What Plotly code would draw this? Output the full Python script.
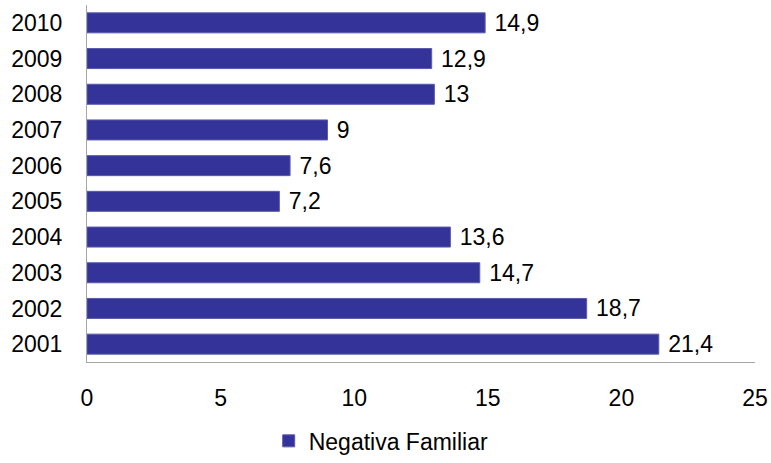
import plotly.graph_objects as go

years = ["2001", "2002", "2003", "2004", "2005", "2006", "2007", "2008", "2009", "2010"]
values = [21.4, 18.7, 14.7, 13.6, 7.2, 7.6, 9, 13, 12.9, 14.9]
series_name = "Negativa Familiar"
x_ticks = [0, 5, 10, 15, 20, 25]

FS = 23

fig = go.Figure()
fig.add_trace(go.Bar(
    y=years, x=values, orientation="h", name=series_name,
    marker=dict(color="#333399", line=dict(color="#5a5aae", width=1)),
    texttemplate=" %{x}", textposition="outside", cliponaxis=False,
    constraintext="none",
    textfont=dict(size=FS, color="#000000"),
    showlegend=True,
))

fig.update_layout(
    width=771, height=463,
    margin=dict(l=87, r=16, t=5, b=101, autoexpand=False),
    paper_bgcolor="white", plot_bgcolor="white",
    separators=",.",
    font=dict(family="Liberation Sans, Arial, sans-serif", size=FS, color="#000000"),
    bargap=0.44,
    showlegend=True,
    legend=dict(orientation="h", x=0.272, xanchor="left", y=-0.221, yanchor="middle",
                font=dict(size=FS), itemwidth=30),
)
fig.update_xaxes(range=[0, 25], tickvals=x_ticks, showgrid=False, zeroline=False,
                 showline=True, linecolor="#a6a6a6", linewidth=1, ticks="",
                 automargin=False, ticklabelstandoff=15, tickfont=dict(size=FS))
fig.update_yaxes(type="category", categoryorder="array", categoryarray=years,
                 showgrid=False, showline=True, linecolor="#a6a6a6", linewidth=1,
                 ticks="", automargin=False, ticklabelstandoff=19, tickfont=dict(size=FS))

fig.write_html("out.html", config={"displayModeBar": False},
               post_script="document.body.style.margin='0';")
